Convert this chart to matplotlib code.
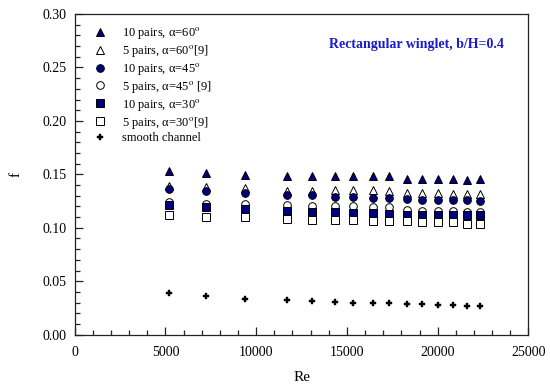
import matplotlib
matplotlib.use("Agg")
import matplotlib.pyplot as plt
from matplotlib.ticker import MultipleLocator

plt.rcParams['font.family'] = ['Liberation Serif', 'DejaVu Serif']
plt.rcParams['mathtext.fontset'] = 'stix'

# Reynolds numbers (same for every series)
re = [5220, 7250, 9360, 11680, 13090, 14350, 15350, 16420, 17340,
      18310, 19160, 20000, 20830, 21600, 22320]

f_10p_60 = [0.153, 0.151, 0.149, 0.148, 0.148, 0.148, 0.148, 0.148, 0.148,
            0.146, 0.146, 0.146, 0.146, 0.145, 0.146]
f_5p_60 = [0.139, 0.138, 0.137, 0.134, 0.134, 0.135, 0.135, 0.135, 0.134,
           0.133, 0.133, 0.133, 0.132, 0.132, 0.132]
f_10p_45 = [0.136, 0.134, 0.133, 0.131, 0.131, 0.129, 0.129, 0.128, 0.128,
            0.127, 0.126, 0.126, 0.126, 0.126, 0.125]
f_5p_45 = [0.124, 0.122, 0.122, 0.121, 0.120, 0.120, 0.120, 0.119, 0.119,
           0.117, 0.116, 0.116, 0.116, 0.115, 0.115]
f_10p_30 = [0.121, 0.119, 0.118, 0.116, 0.115, 0.115, 0.114, 0.114, 0.113,
            0.112, 0.112, 0.112, 0.112, 0.112, 0.112]
f_5p_30 = [0.112, 0.110, 0.110, 0.108, 0.107, 0.107, 0.107, 0.106, 0.106,
           0.106, 0.105, 0.105, 0.105, 0.104, 0.104]
f_smooth = [0.0389, 0.0364, 0.0336, 0.0324, 0.0315, 0.0305, 0.0299, 0.0296,
            0.0293, 0.0287, 0.0287, 0.0280, 0.0277, 0.0271, 0.0271]

navy = '#00007f'
series = [
    (f_10p_60, '10 pairs, α=60$^\\mathrm{o}$', '^', navy),
    (f_5p_60, '5 pairs, α=60$^\\mathrm{o}$[9]', '^', 'white'),
    (f_10p_45, '10 pairs, α=45$^\\mathrm{o}$', 'o', navy),
    (f_5p_45, '5 pairs, α=45$^\\mathrm{o}$ [9]', 'o', 'white'),
    (f_10p_30, '10 pairs, α=30$^\\mathrm{o}$', 's', navy),
    (f_5p_30, '5 pairs, α=30$^\\mathrm{o}$[9]', 's', 'white'),
]

fig = plt.figure(figsize=(5.5, 3.89), dpi=100)
ax = fig.add_axes([0.1358, 0.1396, 0.825, 0.8244])

for vals, lab, mk, fc in series:
    ax.plot(re, vals, linestyle='none', marker=mk, markersize=5.5,
            markerfacecolor=fc, markeredgecolor='black', markeredgewidth=0.7,
            label=lab)
ax.plot(re, f_smooth, linestyle='none', marker='P', markersize=4.5,
        markerfacecolor='black', markeredgecolor='black', markeredgewidth=0.3,
        label='smooth channel')

ax.set_xlim(0, 25000)
ax.set_ylim(0, 0.30)
ax.xaxis.set_major_locator(MultipleLocator(5000))
ax.xaxis.set_minor_locator(MultipleLocator(1000))
ax.yaxis.set_major_locator(MultipleLocator(0.05))
ax.yaxis.set_minor_locator(MultipleLocator(0.01))
ax.yaxis.set_major_formatter(matplotlib.ticker.FormatStrFormatter('%.2f'))
ax.tick_params(which='both', direction='in', top=False, right=False,
               labelsize=10, color='#222222')
ax.tick_params(which='major', length=6, width=0.9)
ax.tick_params(which='minor', length=3.5, width=0.9)
ax.tick_params(axis='x', pad=8)
ax.tick_params(axis='y', pad=6)
for sp in ax.spines.values():
    sp.set_linewidth(0.9)
    sp.set_color('#222222')

ax.set_xlabel('Re', fontsize=11, labelpad=9)
ax.set_ylabel('f', fontsize=11, labelpad=14)

ax.text(0.946, 0.906, 'Rectangular winglet, b/H=0.4', transform=ax.transAxes,
        ha='right', va='center', fontsize=10, fontweight='bold', color='#1a1acc')

ax.legend(loc='upper left', bbox_to_anchor=(0.042, 0.965), frameon=False,
          fontsize=9, borderpad=0, borderaxespad=0, handlelength=1.0,
          handletextpad=1.3, labelspacing=0.15, numpoints=1)

fig.savefig('out.png', dpi=100)
